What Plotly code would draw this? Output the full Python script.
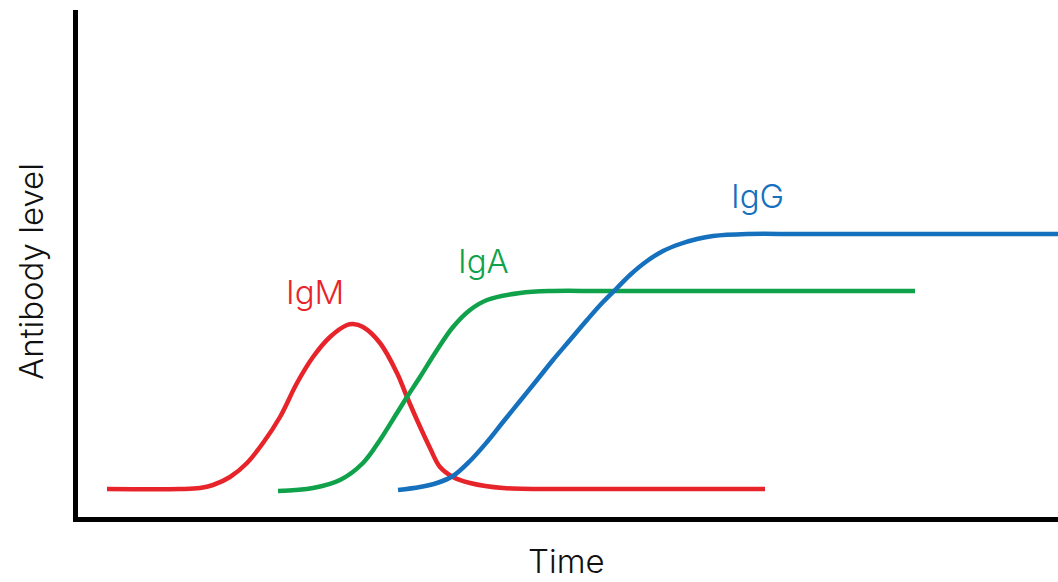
import plotly.graph_objects as go

# Time (arbitrary units) and antibody level (arbitrary units)
igm_time = [29, 102, 122, 135, 152, 169, 185, 202, 219, 235, 252, 269, 275, 285, 302, 319, 329, 339, 352, 362, 375, 392, 425, 522, 622, 687]
igm_level = [28, 28, 29, 32, 40, 54, 74, 100, 134, 160, 180, 192, 193, 190, 174, 144, 120, 97, 69, 50, 40, 34, 29, 28, 28, 28]

iga_time = [200, 235, 262, 285, 302, 319, 329, 342, 359, 375, 392, 409, 442, 475, 522, 622, 722, 837]
iga_level = [26, 29, 37, 54, 77, 104, 120, 140, 167, 190, 207, 217, 224, 226, 226, 226, 226, 226]

igg_time = [320, 342, 359, 375, 392, 409, 425, 442, 459, 475, 492, 509, 525, 539, 552, 569, 585, 602, 619, 635, 669, 722, 822, 980]
igg_level = [27, 30, 34, 41, 56, 75, 95, 116, 137, 157, 177, 197, 215, 229, 242, 256, 266, 273, 278, 281, 283, 283, 283, 283]

series_names = ["IgM", "IgA", "IgG"]
label_time = [237, 405, 679]
label_level = [225, 256, 321]

colors = {"IgM": "#E8242B", "IgA": "#0FA24A", "IgG": "#1570BD"}
FONT = "Inter"

fig = go.Figure()
for name, t, l in [("IgM", igm_time, igm_level), ("IgA", iga_time, iga_level), ("IgG", igg_time, igg_level)]:
    fig.add_trace(go.Scatter(x=t, y=l, mode="lines", name=name,
                             line=dict(color=colors[name], width=4.5, shape="spline", smoothing=1.0),
                             hoverinfo="skip"))

for name, tx, ly in zip(series_names, label_time, label_level):
    fig.add_annotation(x=tx, y=ly, xref="x", yref="y", text=name, showarrow=False,
                       font=dict(family=FONT, size=33, color=colors[name], weight=300))

# plot area spans 980 x 507 px
fig.add_annotation(x=(566 - 78) / 980, y=(517 - 561) / 507, xref="paper", yref="paper", text="Time",
                   showarrow=False,
                   font=dict(family=FONT, size=33, color="#111111", weight=300), xanchor="center", yanchor="middle")
fig.add_annotation(x=(31 - 78) / 980, y=(517 - 272) / 507, xref="paper", yref="paper", text="Antibody level",
                   showarrow=False, textangle=-90,
                   font=dict(family=FONT, size=33, color="#111111", weight=300), xanchor="center", yanchor="middle")

fig.update_layout(
    width=1058, height=582,
    margin=dict(l=78, r=0, t=10, b=65),
    paper_bgcolor="white", plot_bgcolor="white",
    showlegend=False,
    xaxis=dict(range=[0, 980], showgrid=False, zeroline=False, showticklabels=False, ticks="",
               showline=True, linecolor="black", linewidth=5),
    yaxis=dict(range=[0, 507], showgrid=False, zeroline=False, showticklabels=False, ticks="",
               showline=True, linecolor="black", linewidth=5),
)

fig.write_html("out.html", config={"displayModeBar": False},
               post_script="document.body.style.margin='0';document.body.style.overflow='hidden';")
